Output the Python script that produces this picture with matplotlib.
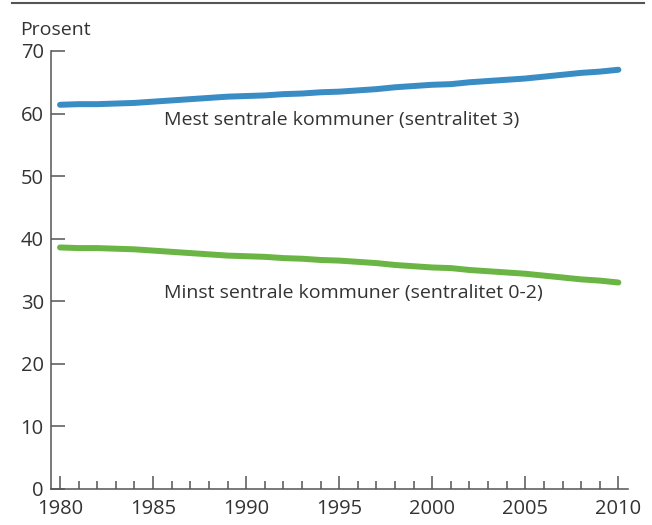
import matplotlib
matplotlib.use("Agg")
import matplotlib.pyplot as plt
from matplotlib.lines import Line2D
from matplotlib.ticker import MultipleLocator

plt.rcParams['font.family'] = ['Open Sans', 'DejaVu Sans']

# data (prosent)
years = list(range(1980, 2011))
mest_sentrale = [61.4, 61.5, 61.5, 61.6, 61.7, 61.9, 62.1, 62.3, 62.5, 62.7,
                 62.8, 62.9, 63.1, 63.2, 63.4, 63.5, 63.7, 63.9, 64.2, 64.4,
                 64.6, 64.7, 65.0, 65.2, 65.4, 65.6, 65.9, 66.2, 66.5, 66.7,
                 67.0]
minst_sentrale = [38.6, 38.5, 38.5, 38.4, 38.3, 38.1, 37.9, 37.7, 37.5, 37.3,
                  37.2, 37.1, 36.9, 36.8, 36.6, 36.5, 36.3, 36.1, 35.8, 35.6,
                  35.4, 35.3, 35.0, 34.8, 34.6, 34.4, 34.1, 33.8, 33.5, 33.3,
                  33.0]
label_mest = "Mest sentrale kommuner (sentralitet 3)"
label_minst = "Minst sentrale kommuner (sentralitet 0-2)"

axis_col = '#555555'
text_col = '#333333'

fig = plt.figure(figsize=(6.52, 5.25), dpi=100)
ax = fig.add_axes([0.0778, 0.0686, 0.8849, 0.8343])

ax.plot(years, mest_sentrale, color='#3a8cc4', lw=4.3, solid_capstyle='round')
ax.plot(years, minst_sentrale, color='#6ab544', lw=4.3, solid_capstyle='round')

ax.text(1985.58, 58.9, label_mest, fontsize=14, color=text_col, va='center')
ax.text(1985.58, 31.3, label_minst, fontsize=14, color=text_col, va='center')

ax.set_xlim(1979.5, 2010.5)
ax.set_ylim(0, 70)
ax.xaxis.set_major_locator(MultipleLocator(5))
ax.xaxis.set_minor_locator(MultipleLocator(1))
ax.yaxis.set_major_locator(MultipleLocator(10))

for s in ['top', 'right']:
    ax.spines[s].set_visible(False)
for s in ['left', 'bottom']:
    ax.spines[s].set_color(axis_col)
    ax.spines[s].set_linewidth(1.1)

ax.tick_params(axis='x', which='major', direction='in', length=9.5, width=1.1,
               color=axis_col, labelsize=14.5, labelcolor=text_col, pad=7)
ax.tick_params(axis='x', which='minor', direction='in', length=5.8, width=1.1,
               color=axis_col)
ax.tick_params(axis='y', direction='in', length=10, width=1.1, color=axis_col,
               labelsize=14.5, labelcolor=text_col, pad=5)

# top rule and unit label
fig.add_artist(Line2D([0.019, 0.988], [0.9937, 0.9937], color=axis_col,
                      lw=1.5, transform=fig.transFigure))
fig.text(20 / 652, 1 - 35 / 525, "Prosent", fontsize=14, color=text_col,
         va='baseline', ha='left')

fig.savefig("out.png", dpi=100)
